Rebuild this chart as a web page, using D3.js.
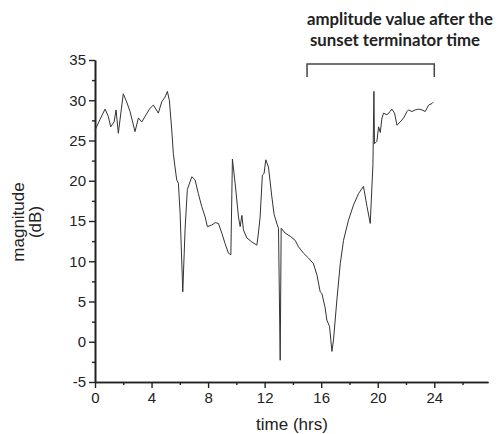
<!DOCTYPE html>
<html>
<head>
<meta charset="utf-8">
<script src="https://cdn.jsdelivr.net/npm/d3@7"></script>
<style>
  body { margin: 0; background: #fff; }
  svg text { font-family: "Liberation Sans", Arial, sans-serif; fill: #222; }
</style>
</head>
<body>
<svg id="chart"></svg>
<script>
// time (hrs) and magnitude (dB)
var timeHrs = [0.00, 0.14, 0.35, 0.71, 0.94, 1.11, 1.35, 1.49, 1.65, 2.00, 2.24, 2.48, 2.83, 3.07, 3.31, 3.54, 3.89, 4.13, 4.48, 4.72, 4.96, 5.12,
  5.26, 5.43, 5.54, 5.66, 5.78, 5.90, 6.02, 6.21, 6.37, 6.53, 6.85, 7.08, 7.31, 7.55, 7.79, 7.95, 8.26, 8.50, 8.73, 8.97, 9.20, 9.44, 9.61,
  9.72, 9.91, 10.15, 10.27, 10.39, 10.50, 10.74, 11.09, 11.45, 11.56, 11.68, 11.84, 11.96, 12.08, 12.27, 12.51, 12.67, 12.88, 12.98,
  13.10, 13.17, 13.45, 13.81, 14.16, 14.39, 14.75, 15.10, 15.45, 15.70, 15.93, 16.05, 16.28, 16.40, 16.59, 16.76, 16.87, 17.11, 17.35,
  17.58, 17.93, 18.29, 18.64, 18.99, 19.24, 19.47, 19.66, 19.73, 19.77, 19.94, 20.06, 20.18, 20.30, 20.41, 20.65, 20.88, 21.00, 21.19,
  21.36, 21.59, 21.83, 22.07, 22.18, 22.42, 22.65, 22.89, 23.13, 23.36, 23.60, 23.84, 23.95];
var magnitudeDb = [26.3, 26.8, 27.6, 28.9, 28.0, 26.7, 27.3, 28.8, 25.9, 30.8, 29.8, 28.6, 26.1, 27.8, 27.3, 28.0, 29.0, 29.4, 28.4, 29.8, 30.4, 31.1,
  30.0, 26.3, 23.4, 21.7, 20.1, 19.7, 16.0, 6.2, 13.9, 18.9, 20.5, 20.1, 18.4, 16.8, 15.5, 14.3, 14.5, 14.8, 14.7, 13.5, 12.2, 11.0, 10.8,
  22.7, 19.7, 15.5, 14.3, 15.7, 13.9, 12.9, 12.4, 12.0, 13.5, 15.5, 20.7, 20.9, 22.6, 21.7, 18.0, 15.8, 14.6, 14.1,
  -2.3, 14.1, 13.5, 13.1, 12.6, 11.8, 11.0, 10.4, 9.7, 8.3, 6.2, 6.0, 4.2, 2.7, 1.9, -1.2, 0.2, 5.2, 9.7,
  12.6, 15.1, 17.0, 18.4, 19.3, 16.8, 14.7, 22.0, 31.1, 24.6, 24.9, 26.7, 26.0, 27.8, 28.4, 28.2, 28.6, 28.9, 28.4,
  26.9, 27.3, 27.8, 28.6, 28.8, 28.6, 28.8, 28.9, 28.8, 28.6, 29.4, 29.6, 29.8];

var xMajorTicks = [0, 4, 8, 12, 16, 20, 24];
var xMinorTicks = [2, 6, 10, 14, 18, 22, 26];
var yMajorTicks = [-5, 0, 5, 10, 15, 20, 25, 30, 35];
var yMinorTicks = [-2.5, 2.5, 7.5, 12.5, 17.5, 22.5, 27.5, 32.5];
var bracketSpan = [15, 24];
var titleLines = ["amplitude value after the", "sunset terminator time"];

var width = 498, height = 434;
var svg = d3.select("#chart").attr("width", width).attr("height", height);

var x = d3.scaleLinear().domain([0, 27.8]).range([95, 488]);
var y = d3.scaleLinear().domain([-5, 35]).range([382, 60]);

// x axis
var gx = svg.append("g").attr("transform", `translate(0,${y(-5)})`);
gx.call(d3.axisBottom(x).tickValues(xMajorTicks).tickFormat(d => String(d)).tickSize(6).tickSizeOuter(0).tickPadding(4));
gx.append("g").call(d3.axisBottom(x).tickValues(xMinorTicks).tickFormat("").tickSize(3).tickSizeOuter(0));
gx.selectAll("text").attr("font-size", "15px").attr("fill", "#222");

// y axis
var gy = svg.append("g").attr("transform", `translate(${x(0)},0)`);
gy.call(d3.axisLeft(y).tickValues(yMajorTicks).tickFormat(d => String(d)).tickSize(6).tickSizeOuter(0).tickPadding(3));
gy.append("g").call(d3.axisLeft(y).tickValues(yMinorTicks).tickFormat("").tickSize(3).tickSizeOuter(0));
gy.selectAll("text").attr("font-size", "15px").attr("fill", "#222");

svg.selectAll(".domain").attr("stroke", "#222").attr("stroke-width", 1.6);
svg.selectAll(".tick line").attr("stroke", "#222").attr("stroke-width", 1.4);

// the trace
var line = d3.line()
  .x((d, i) => x(timeHrs[i]))
  .y(d => y(d));

svg.append("path")
  .datum(magnitudeDb)
  .attr("d", line)
  .attr("fill", "none")
  .attr("stroke", "#333")
  .attr("stroke-width", 1)
  .attr("stroke-linejoin", "round");

// axis titles
svg.append("text")
  .attr("transform", "translate(24,222) rotate(-90)")
  .attr("text-anchor", "middle")
  .attr("font-size", "17px")
  .text("magnitude");
svg.append("text")
  .attr("transform", "translate(41,222) rotate(-90)")
  .attr("text-anchor", "middle")
  .attr("font-size", "17px")
  .text("(dB)");
svg.append("text")
  .attr("x", 292).attr("y", 430)
  .attr("text-anchor", "middle")
  .attr("font-size", "17px")
  .text("time (hrs)");

// bracket and annotation
var by = 64;
svg.append("path")
  .attr("d", `M${x(bracketSpan[0])},${by + 13}V${by}H${x(bracketSpan[1])}V${by + 13}`)
  .attr("fill", "none")
  .attr("stroke", "#444")
  .attr("stroke-width", 1.5);

svg.selectAll(".title")
  .data(titleLines)
  .enter()
  .append("text")
  .attr("class", "title")
  .attr("x", (d, i) => i == 0 ? 400 : 395)
  .attr("y", (d, i) => 25 + i * 21)
  .attr("text-anchor", "middle")
  .style("font-family", "Lato, 'Open Sans', sans-serif")
  .style("font-weight", "bold")
  .attr("font-size", "16.8px")
  .text(d => d);
</script>
</body>
</html>
